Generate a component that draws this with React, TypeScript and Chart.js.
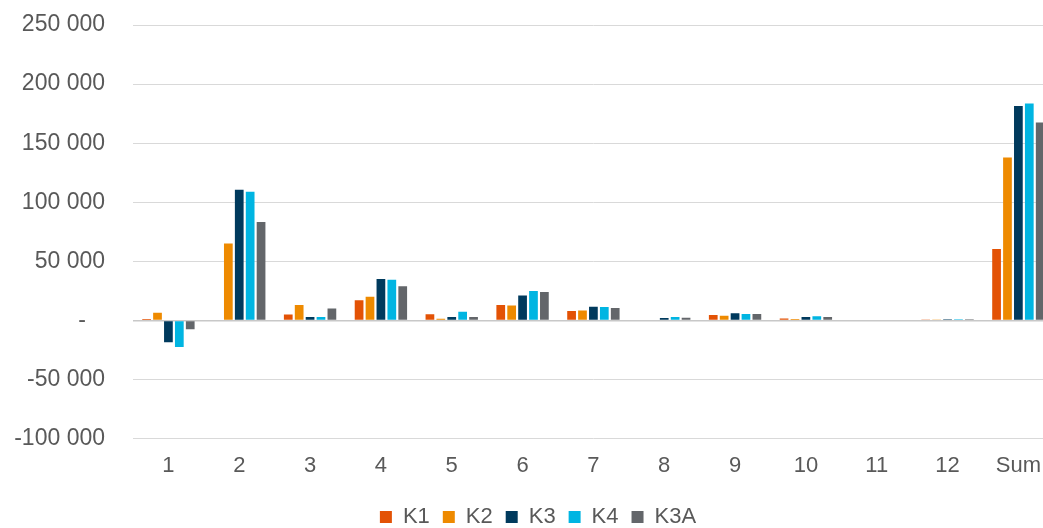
import React, { useEffect, useRef } from "react";
import { Chart, registerables } from "chart.js";

Chart.register(...registerables);

const categories = ["1", "2", "3", "4", "5", "6", "7", "8", "9", "10", "11", "12", "Sum"];
const k1 = [1200, 0, 5100, 17000, 5300, 13000, 7900, 500, 4500, 1700, 0, 700, 60500];
const k2 = [6500, 65000, 13000, 20000, 1400, 12700, 8500, 600, 4000, 1200, 0, 800, 137800];
const k3 = [-18500, 110500, 2800, 35000, 2800, 21200, 11600, 2000, 6000, 2800, 0, 1000, 181500];
const k4 = [-22500, 108800, 3000, 34400, 7300, 24800, 11300, 2800, 5400, 3600, 0, 1100, 183500];
const k3a = [-7400, 83300, 10200, 29000, 2800, 24000, 10500, 2300, 5400, 2800, 0, 900, 167500];
const seriesNames = ["K1", "K2", "K3", "K4", "K3A"];
const seriesColors = ["#E35205", "#EE8A00", "#003A5D", "#00B5E2", "#63666A"];
const yMin = -100000;
const yMax = 250000;
const yStep = 50000;

function formatTick(v: number): string {
  if (v === 0) return "-   ";
  const s = Math.abs(v).toString().replace(/\B(?=(\d{3})+(?!\d))/g, " ");
  return (v < 0 ? "-" : "") + s;
}

const FONT = "'Liberation Sans', Arial, sans-serif";

export default function App() {
  const ref = useRef<HTMLCanvasElement | null>(null);
  useEffect(() => {
    document.body.style.margin = "0";
    const values = [k1, k2, k3, k4, k3a];
    const chart = new Chart(ref.current as HTMLCanvasElement, {
      type: "bar",
      data: {
        labels: categories,
        datasets: seriesNames.map((name, i) => ({
          label: name,
          data: values[i],
          backgroundColor: seriesColors[i],
          borderWidth: 0,
          categoryPercentage: 0.77,
          barPercentage: 0.8,
        })),
      },
      options: {
        animation: false,
        responsive: false,
        maintainAspectRatio: false,
        layout: { padding: { left: 21, right: 0, top: 25, bottom: -10 } },
        plugins: {
          tooltip: { enabled: false },
          legend: {
            position: "bottom",
            labels: {
              boxWidth: 12,
              boxHeight: 12,
              padding: 13,
              color: "#595959",
              font: { family: FONT, size: 22 },
            },
          },
        },
        scales: {
          x: {
            grid: { display: false, drawTicks: false },
            border: { display: false },
            ticks: {
              color: "#595959",
              padding: 14,
              maxRotation: 0,
              autoSkip: false,
              font: { family: FONT, size: 22 },
            },
          },
          y: {
            min: yMin,
            max: yMax,
            afterFit: (scale: any) => {
              scale.width = 112;
              scale.paddingTop = 10;
              scale.paddingBottom = 10;
              scale._computeLabelArea = () => undefined;
            },
            grid: {
              drawTicks: false,
              color: (ctx: any) => (ctx.tick && ctx.tick.value === 0 ? "#C8C8C8" : "#D9D9D9"),
              lineWidth: (ctx: any) => (ctx.tick && ctx.tick.value === 0 ? 1.5 : 1),
            },
            border: { display: false },
            ticks: {
              stepSize: yStep,
              padding: 28,
              color: "#595959",
              font: { family: FONT, size: 23 },
              callback: (v: any) => formatTick(Number(v)),
            },
          },
        },
      },
    });
    return () => chart.destroy();
  }, []);
  return (
    <div style={{ width: 1043, height: 528, overflow: "hidden" }}>
      <canvas ref={ref} width={1055} height={528} style={{ display: "block" }} />
    </div>
  );
}
